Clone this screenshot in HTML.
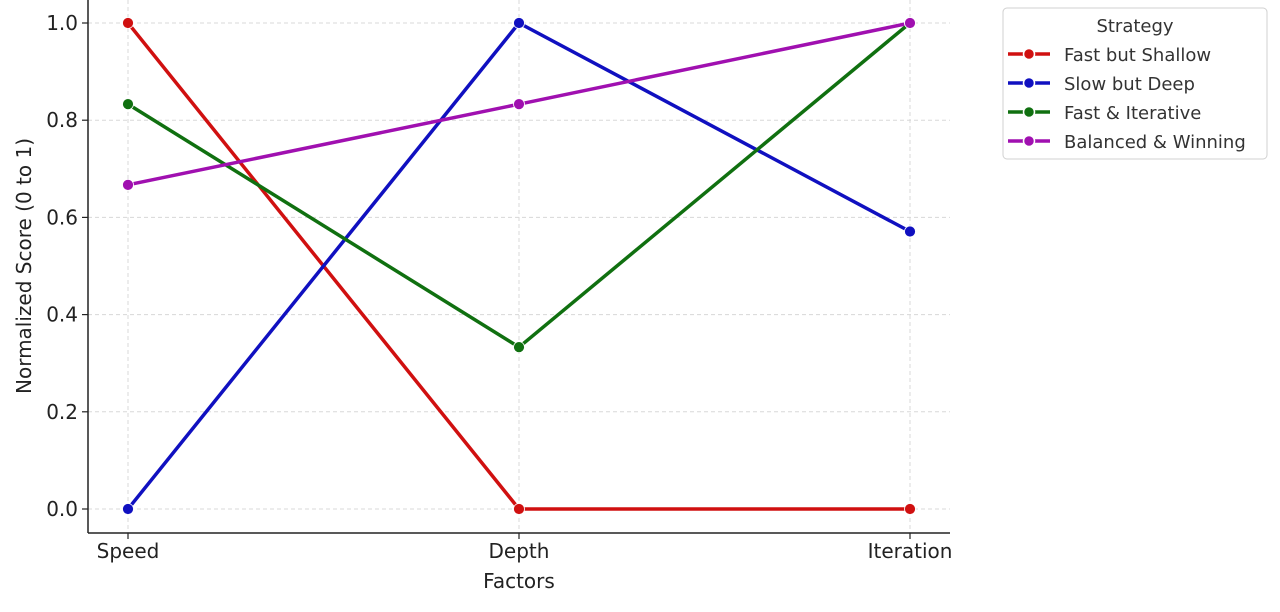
<!DOCTYPE html>
<html><head><meta charset="utf-8"><style>
html,body{margin:0;padding:0;background:#fff;}
svg text{font-family:"DejaVu Sans","Liberation Sans",sans-serif;}
</style></head><body>
<svg id="chart" width="1280" height="607" viewBox="0 0 1280 607" xmlns="http://www.w3.org/2000/svg"></svg>
<script>
const categories = ["Speed","Depth","Iteration"];
const seriesNames = ["Fast but Shallow","Slow but Deep","Fast & Iterative","Balanced & Winning"];
const seriesColors = ["#d01010","#1010c0","#107010","#a010b0"];
const fastShallow = [1, 0, 0];
const slowDeep = [0, 1, 0.571];
const fastIterative = [0.833, 0.333, 1];
const balanced = [0.667, 0.833, 1];
const yTicks = [0, 0.2, 0.4, 0.6, 0.8, 1.0];
const yTickLabels = ["0.0","0.2","0.4","0.6","0.8","1.0"];

const svg = document.getElementById('chart');
const NS = 'http://www.w3.org/2000/svg';
function mk(tag, attrs, parent){const e=document.createElementNS(NS,tag);for(const k in attrs)e.setAttribute(k,attrs[k]);(parent||svg).appendChild(e);return e;}
const x0=128, x1=910, yTop=23, yBot=509;
function xs(i){return x0 + (x1-x0)*i/(categories.length-1);}
function ys(v){return yBot - (yBot-yTop)*v;}
const axL=88, axR=950, axB=533, axT=0;

// grid
yTicks.forEach((t,i)=>{
  const g=mk('line',{x1:axL,x2:axR,y1:ys(t),y2:ys(t),stroke:'#d8d8d8','stroke-dasharray':'4,3','stroke-width':1});
  
  
  const tk=mk('line',{x1:axL-6,x2:axL,y1:ys(t),y2:ys(t),stroke:'#222','stroke-width':1.2});
  
  
  const tl=mk('text',{x:axL-10,y:ys(t)+7,'text-anchor':'end','font-size':20,fill:'#222'});
  tl.textContent=yTickLabels[i];
  
  
});
categories.forEach((c,i)=>{
  const g=mk('line',{x1:xs(i),x2:xs(i),y1:axT,y2:axB,stroke:'#d8d8d8','stroke-dasharray':'4,3','stroke-width':1});
  
  
  const tk=mk('line',{x1:xs(i),x2:xs(i),y1:axB,y2:axB+6,stroke:'#222','stroke-width':1.2});
  
  
  const tl=mk('text',{x:xs(i),y:axB+25,'text-anchor':'middle','font-size':20,fill:'#222'});
  tl.textContent=c;
  
  
});
// spines
const sl=mk('line',{x1:axL,x2:axL,y1:axT,y2:axB,stroke:'#222','stroke-width':1.5});


const sb=mk('line',{x1:axL,x2:axR,y1:axB,y2:axB,stroke:'#222','stroke-width':1.5});


// axis titles
const xt=mk('text',{x:519,y:588,'text-anchor':'middle','font-size':20,fill:'#222'});
xt.textContent='Factors';


const yt=mk('text',{x:0,y:0,'text-anchor':'middle','font-size':20,fill:'#222',transform:'translate(31,266) rotate(-90)'});
yt.textContent='Normalized Score (0 to 1)';



// series
const allSeries=[fastShallow,slowDeep,fastIterative,balanced];
allSeries.forEach((vals,s)=>{
  const pts=vals.map((v,i)=>xs(i)+','+ys(v)).join(' ');
  const pl=mk('polyline',{points:pts,fill:'none',stroke:seriesColors[s],'stroke-width':3.5,'stroke-linejoin':'round'});
  
  
});
allSeries.forEach((vals,s)=>{
  vals.forEach((v,i)=>{
    const c=mk('circle',{cx:xs(i),cy:ys(v),r:5.5,fill:seriesColors[s],stroke:'#fff','stroke-width':0.8});
    
    
  });
});

// legend
const lg=mk('g',{});


mk('rect',{x:1003,y:8,width:264,height:151,rx:4,fill:'#fff',stroke:'#d0d0d0','stroke-width':1},lg);
const lt=mk('text',{x:1135,y:32,'text-anchor':'middle','font-size':18,fill:'#333'},lg);
lt.textContent='Strategy';
seriesNames.forEach((n,s)=>{
  const y=54+29*s;
  const e=mk('g',{},lg);
  
  
  mk('line',{x1:1008,x2:1050,y1:y,y2:y,stroke:seriesColors[s],'stroke-width':3.5},e);
  mk('circle',{cx:1029,cy:y,r:5.5,fill:seriesColors[s],stroke:'#fff','stroke-width':1.5},e);
  const t=mk('text',{x:1064,y:y+7,'font-size':18,fill:'#333'},e);
  t.textContent=n;
});
</script>
</body></html>
